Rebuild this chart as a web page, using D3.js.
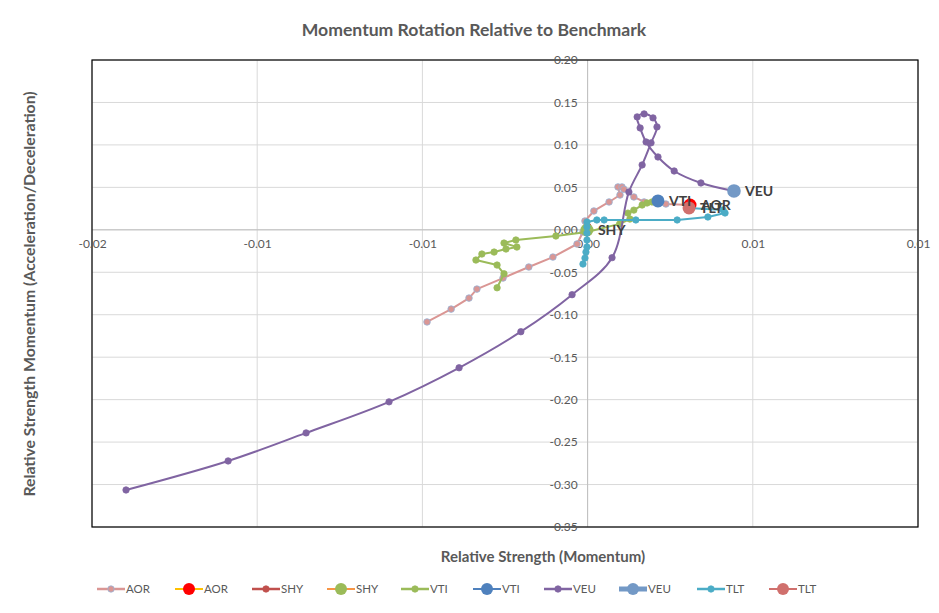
<!DOCTYPE html>
<html>
<head>
<meta charset="utf-8">
<script src="https://cdn.jsdelivr.net/npm/d3@7"></script>
<style>
  body { margin: 0; background: #fff; }
  svg { display: block; font-family: Lato, "Open Sans", sans-serif; }
</style>
</head>
<body>
<svg id="chart" width="939" height="613"></svg>
<script>
// ---------- DATA ----------
const xTicks = [-0.015, -0.01, -0.005, 0, 0.005, 0.01];
const yTicks = [0.20, 0.15, 0.10, 0.05, 0.00, -0.05, -0.10, -0.15, -0.20, -0.25, -0.30, -0.35];

const aorTrail = [
  [-0.00486, -0.1085], [-0.00413, -0.0934], [-0.00359, -0.0804], [-0.00335, -0.0698],
  [-0.00256, -0.0568], [-0.00178, -0.0438], [-0.00105, -0.0321], [-0.00032, -0.0167],
  [-0.00014, -0.0026], [-0.00008, 0.0104], [0.00019, 0.0222], [0.00065, 0.0328],
  [0.00098, 0.0410], [0.00092, 0.0505], [0.00104, 0.0505], [0.00110, 0.0478],
  [0.00140, 0.0387], [0.00171, 0.0328], [0.00237, 0.0304], [0.00310, 0.0292]
];
const aorLast = [[0.00310, 0.0292]];

const shyTrail = [
  [0.00001, -0.0030], [-0.00002, 0.0010], [0.00001, 0.0040], [-0.00001, 0.0005], [-0.00002, -0.0002]
];
const shyLast = [[-0.00002, -0.0002]];

const vtiTrail = [
  [-0.00274, -0.0683], [-0.00253, -0.0518], [-0.00274, -0.0415], [-0.00338, -0.0356],
  [-0.00320, -0.0285], [-0.00283, -0.0262], [-0.00247, -0.0226], [-0.00214, -0.0203],
  [-0.00253, -0.0156], [-0.00217, -0.0120], [-0.00096, -0.0073], [-0.00002, -0.0026],
  [0.00097, 0.0070], [0.00128, 0.0127], [0.00122, 0.0197], [0.00140, 0.0232],
  [0.00165, 0.0292], [0.00180, 0.0316], [0.00195, 0.0328], [0.00213, 0.0340]
];
const vtiLast = [[0.00213, 0.0340]];

const veuTrail = [
  [-0.01397, -0.3064], [-0.01088, -0.2722], [-0.00852, -0.2392], [-0.00601, -0.2026],
  [-0.00389, -0.1625], [-0.00202, -0.1200], [-0.00047, -0.0764], [0.00074, -0.0328],
  [0.00125, 0.0446], [0.00165, 0.0764], [0.00192, 0.1024], [0.00210, 0.1212],
  [0.00198, 0.1318], [0.00171, 0.1365], [0.00150, 0.1330], [0.00159, 0.1200],
  [0.00177, 0.1035], [0.00213, 0.0858], [0.00262, 0.0693], [0.00343, 0.0552],
  [0.00443, 0.0458]
];
const veuLast = [[0.00443, 0.0458]];

const tltTrail = [
  [-0.00014, -0.0403], [-0.00008, -0.0333], [-0.00005, -0.0262], [-0.00002, -0.0203],
  [-0.00002, -0.0120], [-0.00002, -0.0038], [-0.00002, 0.0033], [-0.00002, 0.0092],
  [0.00028, 0.0116], [0.00050, 0.0116], [0.00146, 0.0116], [0.00271, 0.0116],
  [0.00364, 0.0151], [0.00416, 0.0198], [0.00410, 0.0234], [0.00307, 0.0258]
];
const tltLast = [[0.00307, 0.0258]];

const seriesNames = ["AOR", "AOR", "SHY", "SHY", "VTI", "VTI", "VEU", "VEU", "TLT", "TLT"];

// ---------- STYLES ----------
const series = [
  { name: "AOR", data: aorTrail, line: "#DA9694", fill: "#DA9694", stroke: "#95B3D7", r: 3.3, lw: 2, big: false },
  { name: "AOR", data: aorLast, line: "#FFC000", fill: "#FF0000", stroke: "#FF0000", r: 6.5, lw: 2, big: true },
  { name: "SHY", data: shyTrail, line: "#C0504D", fill: "#C0504D", stroke: "#C0504D", r: 3.2, lw: 2, big: false },
  { name: "SHY", data: shyLast, line: "#F79646", fill: "#9BBB59", stroke: "#9BBB59", r: 6.5, lw: 2, big: true },
  { name: "VTI", data: vtiTrail, line: "#9BBB59", fill: "#9BBB59", stroke: "#9BBB59", r: 3.2, lw: 2, big: false },
  { name: "VTI", data: vtiLast, line: "#4F81BD", fill: "#4F81BD", stroke: "#4F81BD", r: 6.5, lw: 2, big: true },
  { name: "VEU", data: veuTrail, line: "#8064A2", fill: "#8064A2", stroke: "#8064A2", r: 3.2, lw: 2, big: false, curve: true },
  { name: "VEU", data: veuLast, line: "#7399C6", fill: "#7399C6", stroke: "#7399C6", r: 6.8, lw: 5, big: true },
  { name: "TLT", data: tltTrail, line: "#4BACC6", fill: "#4BACC6", stroke: "#4BACC6", r: 3.2, lw: 2, big: false },
  { name: "TLT", data: tltLast, line: "#D0706D", fill: "#D0706D", stroke: "#D0706D", r: 6.5, lw: 2, big: true }
];

// ---------- LAYOUT ----------
const svg = d3.select("#chart");
const plot = { left: 92, top: 60, right: 918, bottom: 527 };
const x = d3.scaleLinear().domain([-0.015, 0.01]).range([plot.left, plot.right]);
const y = d3.scaleLinear().domain([-0.35, 0.20]).range([plot.bottom, plot.top]);
const txtColor = "#595959";
const legendX = [97, 175, 252, 327, 401, 473, 544, 619, 697, 769];

// gridlines
svg.append("g").selectAll("line").data(xTicks).join("line")
  .attr("x1", d => x(d)).attr("x2", d => x(d))
  .attr("y1", plot.top).attr("y2", plot.bottom)
  .attr("stroke", "#D9D9D9").attr("stroke-width", 1);
svg.append("g").selectAll("line").data(yTicks).join("line")
  .attr("x1", plot.left).attr("x2", plot.right)
  .attr("y1", d => y(d)).attr("y2", d => y(d))
  .attr("stroke", "#D9D9D9").attr("stroke-width", 1);

// axis lines through zero
svg.append("line").attr("x1", plot.left).attr("x2", plot.right)
  .attr("y1", y(0)).attr("y2", y(0)).attr("stroke", "#BFBFBF").attr("stroke-width", 1);
svg.append("line").attr("x1", x(0)).attr("x2", x(0))
  .attr("y1", plot.top).attr("y2", plot.bottom).attr("stroke", "#BFBFBF").attr("stroke-width", 1);

// plot border
svg.append("rect").attr("x", plot.left).attr("y", plot.top)
  .attr("width", plot.right - plot.left).attr("height", plot.bottom - plot.top)
  .attr("fill", "none").attr("stroke", "#000").attr("stroke-width", 1.2);

// tick labels (Excel-style rounding: half away from zero, plain hyphen)
const fmt = d => {
  const v = Math.sign(d) * Math.round(Math.abs(d) * 100 + 1e-9) / 100;
  return (v === 0 ? 0 : v).toFixed(2);
};
const xAxis = d3.axisBottom(x).tickValues(xTicks).tickFormat(fmt).tickSize(0).tickPadding(10);
const gx = svg.append("g").attr("transform", `translate(0,${y(0)})`).call(xAxis);
gx.select(".domain").remove();
gx.selectAll("text").attr("fill", txtColor).style("font-size", "12px").style("font-family", "Lato, sans-serif");

const yAxis = d3.axisLeft(y).tickValues(yTicks).tickFormat(fmt).tickSize(0).tickPadding(10);
const gy = svg.append("g").attr("transform", `translate(${x(0)},0)`).call(yAxis);
gy.select(".domain").remove();
gy.selectAll("text").attr("fill", txtColor).style("font-size", "12px").style("font-family", "Lato, sans-serif");

// series (drawn in the original series order)
const lineGen = d3.line().x(d => x(d[0])).y(d => y(d[1]));
const curveGen = d3.line().x(d => x(d[0])).y(d => y(d[1])).curve(d3.curveCatmullRom.alpha(0.5));
const marks = svg.append("g");
series.forEach(s => {
  const g = marks.append("g");
  if (!s.big) {
    g.append("path").datum(s.data)
      .attr("d", s.curve ? curveGen : lineGen)
      .attr("fill", "none").attr("stroke", s.line).attr("stroke-width", s.lw)
      .attr("stroke-linejoin", "round");
  }
  g.selectAll("circle").data(s.data).join("circle")
    .attr("cx", d => x(d[0])).attr("cy", d => y(d[1])).attr("r", s.r)
    .attr("fill", s.fill).attr("stroke", s.stroke).attr("stroke-width", s.big ? 0 : 0.8);
});

// data labels for latest points
[5, 1, 9, 7, 3].forEach(i => {
  const s = series[i];
  const d = s.data[s.data.length - 1];
  svg.append("text")
    .attr("x", x(d[0]) + 11).attr("y", y(d[1]))
    .attr("dy", "0.35em")
    .attr("fill", "#404040").style("font-size", "14px").style("font-weight", "bold")
    .text(s.name);
});

// titles
svg.append("text").attr("x", 474).attr("y", 36).attr("text-anchor", "middle")
  .attr("fill", txtColor).style("font-size", "17.6px").style("font-weight", "bold")
  .text("Momentum Rotation Relative to Benchmark");
svg.append("text").attr("x", 543).attr("y", 562).attr("text-anchor", "middle")
  .attr("fill", txtColor).style("font-size", "15px").style("font-weight", "bold")
  .text("Relative Strength (Momentum)");
svg.append("text").attr("transform", "translate(35,294) rotate(-90)").attr("text-anchor", "middle")
  .attr("fill", txtColor).style("font-size", "15.8px").style("font-weight", "bold")
  .text("Relative Strength Momentum (Acceleration/Deceleration)");

// legend
const leg = svg.append("g");
const ly = 589;
series.forEach((s, i) => {
  const lx = legendX[i];
  const g = leg.append("g");
  g.append("line").attr("x1", lx).attr("x2", lx + 28).attr("y1", ly).attr("y2", ly)
    .attr("stroke", s.line).attr("stroke-width", s.lw + (s.big ? 0 : 0.5));
  g.append("circle").attr("cx", lx + 14).attr("cy", ly)
    .attr("r", s.big ? 6 : 3.2)
    .attr("fill", s.fill).attr("stroke", s.stroke).attr("stroke-width", s.big ? 0 : 0.8);
  g.append("text").attr("x", lx + 29).attr("y", ly).attr("dy", "0.35em")
    .attr("fill", txtColor).style("font-size", "11.5px").text(seriesNames[i]);
});
</script>
</body>
</html>
